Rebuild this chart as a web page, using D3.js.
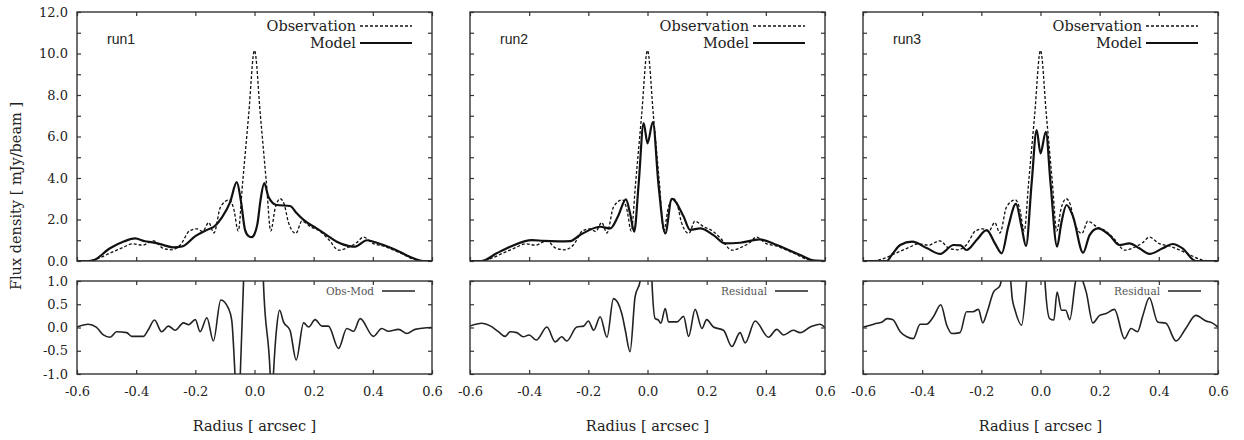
<!DOCTYPE html>
<html>
<head>
<meta charset="utf-8">
<script src="https://cdn.jsdelivr.net/npm/d3@7"></script>
<style>
    body { margin: 0; background: #fff; }
    svg text { font-family: "DejaVu Serif", serif; fill: #222; }
    .frame { fill: none; stroke: #333; stroke-width: 1.4; }
    .axis line { stroke: #333; stroke-width: 1.2; }
    .axis path { display: none; }
    .axis text { font-size: 13px; font-family: "DejaVu Serif", serif; fill: #222; }
    .obs { fill: none; stroke: #111; stroke-width: 1.3; stroke-dasharray: 3,2; }
    .model { fill: none; stroke: #111; stroke-width: 2.2; }
    .resid { fill: none; stroke: #222; stroke-width: 1.6; }
    .legend-text { font-size: 14.5px; }
    .legend-small { font-size: 10.5px; fill: #555 !important; }
    .run-label { font-family: "Liberation Sans", Arial, sans-serif !important; font-size: 14px; }
    .axis-title { font-size: 14.5px; }
</style>
</head>
<body>
<svg id="svg" width="1244" height="440"></svg>
<script>
// ---- data (radius [arcsec], flux [mJy/beam]) ----
const runNames = ['run1', 'run2', 'run3'];
const residualNames = ['Obs-Mod', 'Residual', 'Residual'];

const radiusTicks = [-0.6, -0.4, -0.2, 0.0, 0.2, 0.4, 0.6];
const fluxTicks = [0, 1, 2, 3, 4, 5, 6, 7, 8, 9, 10, 11, 12];
const residTicks = [-1.0, -0.5, 0.0, 0.5, 1.0];

const observation = [
    [-0.6, 0.0], [-0.56, 0.02], [-0.53, 0.12], [-0.49, 0.37], [-0.45, 0.62], [-0.41, 0.83],
    [-0.38, 0.76], [-0.34, 0.97], [-0.31, 0.62], [-0.28, 0.54], [-0.25, 0.78], [-0.22, 1.45],
    [-0.195, 1.55], [-0.175, 1.42], [-0.155, 1.85], [-0.137, 1.35], [-0.115, 2.6], [-0.085, 2.95],
    [-0.07, 2.5], [-0.055, 1.45], [-0.04, 3.8], [-0.02, 7.0], [0.0, 10.15], [0.02, 7.0],
    [0.04, 3.8], [0.055, 1.45], [0.07, 2.55], [0.087, 3.0], [0.1, 2.75], [0.115, 1.85],
    [0.14, 1.33], [0.16, 1.92], [0.19, 1.65], [0.22, 1.45], [0.25, 1.05], [0.285, 0.52],
    [0.32, 0.68], [0.345, 0.88], [0.368, 1.15], [0.4, 0.85], [0.44, 0.7], [0.49, 0.4],
    [0.54, 0.08], [0.57, 0.0], [0.6, 0.0]
];

const modelRun1 = [
    [-0.6, 0.0], [-0.56, 0.0], [-0.545, 0.03], [-0.49, 0.6], [-0.44, 0.95], [-0.404, 1.09],
    [-0.37, 0.95], [-0.345, 0.9], [-0.31, 0.78], [-0.275, 0.66], [-0.245, 0.7], [-0.2, 1.2],
    [-0.16, 1.5], [-0.133, 1.7], [-0.11, 2.1], [-0.082, 2.85], [-0.06, 3.8], [-0.046, 2.9],
    [-0.032, 1.5], [-0.02, 1.2], [-0.009, 1.15], [0.0, 1.3], [0.01, 1.8], [0.02, 2.9],
    [0.033, 3.75], [0.047, 3.1], [0.075, 2.7], [0.12, 2.65], [0.143, 2.3], [0.166, 1.98],
    [0.21, 1.57], [0.244, 1.25], [0.278, 0.93], [0.32, 0.72], [0.34, 0.69], [0.38, 1.0],
    [0.402, 0.93], [0.436, 0.77], [0.49, 0.45], [0.537, 0.13], [0.57, 0.0], [0.6, 0.0]
];

const modelRun2 = [
    [-0.6, 0.0], [-0.56, 0.0], [-0.51, 0.37], [-0.464, 0.69], [-0.39, 1.01], [-0.352, 0.97],
    [-0.3, 0.95], [-0.261, 0.96], [-0.228, 1.25], [-0.16, 1.65], [-0.126, 1.57], [-0.1, 2.14],
    [-0.073, 2.97], [-0.059, 2.3], [-0.045, 1.41], [-0.03, 3.7], [-0.013, 6.65], [0.0, 5.67],
    [0.018, 6.7], [0.037, 3.7], [0.06, 1.33], [0.082, 3.0], [0.122, 2.14], [0.144, 1.5],
    [0.178, 1.57], [0.223, 1.25], [0.262, 0.85], [0.313, 0.88], [0.38, 1.04], [0.437, 0.77],
    [0.516, 0.29], [0.56, 0.03], [0.6, 0.0]
];

const modelRun3 = [
    [-0.6, 0.0], [-0.52, 0.0], [-0.5, 0.35], [-0.474, 0.77], [-0.434, 0.93], [-0.383, 0.61],
    [-0.339, 0.34], [-0.294, 0.77], [-0.27, 0.75], [-0.25, 0.53], [-0.216, 1.01], [-0.182, 1.49],
    [-0.154, 0.85], [-0.131, 0.37], [-0.109, 1.65], [-0.083, 2.75], [-0.064, 1.65], [-0.049, 0.72],
    [-0.03, 3.74], [-0.013, 6.31], [0.0, 5.19], [0.018, 6.23], [0.034, 3.74], [0.056, 0.69],
    [0.07, 1.8], [0.088, 2.7], [0.11, 2.14], [0.144, 0.4], [0.166, 1.25], [0.194, 1.57],
    [0.233, 1.25], [0.267, 0.77], [0.3, 0.85], [0.334, 0.61], [0.368, 0.34], [0.413, 0.61],
    [0.447, 0.82], [0.48, 0.61], [0.525, 0.0], [0.6, 0.0]
];

const residRun1 = [
    [-0.6, 0.01], [-0.562, 0.07], [-0.535, 0.01], [-0.511, -0.16], [-0.488, -0.21], [-0.466, -0.09],
    [-0.432, -0.11], [-0.415, -0.19], [-0.376, -0.19], [-0.36, -0.06], [-0.338, 0.16], [-0.314, -0.09],
    [-0.291, 0.03], [-0.268, -0.06], [-0.24, 0.1], [-0.223, 0.06], [-0.2, 0.17], [-0.184, -0.09],
    [-0.161, 0.21], [-0.139, -0.29], [-0.114, 0.59], [-0.088, 0.41], [-0.077, 0.16], [-0.066, -1.0],
    [-0.057, -2.2], [-0.048, -1.0], [-0.037, 1.0], [-0.02, 5.0], [0.0, 9.0], [0.015, 5.0],
    [0.03, 1.0], [0.053, -1.0], [0.058, -1.8], [0.064, -1.0], [0.075, 0.0], [0.085, 0.37],
    [0.098, 0.12], [0.12, -0.06], [0.141, -0.7], [0.166, 0.1], [0.183, 0.01], [0.205, 0.17],
    [0.228, 0.03], [0.25, 0.03], [0.284, -0.45], [0.312, -0.02], [0.335, -0.08], [0.357, 0.19],
    [0.402, -0.19], [0.43, -0.02], [0.453, -0.08], [0.487, -0.04], [0.515, -0.13], [0.543, -0.04],
    [0.6, 0.0]
];

const residRun2 = [
    [-0.6, 0.03], [-0.56, 0.09], [-0.53, 0.03], [-0.504, -0.09], [-0.481, -0.19], [-0.464, -0.09],
    [-0.442, -0.11], [-0.42, -0.2], [-0.4, -0.16], [-0.376, -0.27], [-0.34, 0.01], [-0.312, -0.31],
    [-0.29, -0.2], [-0.273, -0.29], [-0.239, 0.01], [-0.216, 0.03], [-0.2, 0.14], [-0.182, -0.06],
    [-0.16, 0.23], [-0.137, -0.21], [-0.115, 0.62], [-0.087, 0.3], [-0.075, -0.06], [-0.059, -0.52],
    [-0.042, 0.66], [-0.025, 1.0], [-0.01, 2.5], [0.0, 3.5], [0.008, 2.5], [0.015, 1.0],
    [0.026, 0.19], [0.037, 0.16], [0.045, 0.09], [0.06, 0.41], [0.071, 0.12], [0.1, 0.12],
    [0.122, 0.24], [0.139, -0.19], [0.161, 0.39], [0.184, -0.02], [0.2, 0.17], [0.223, 0.01],
    [0.257, -0.06], [0.285, -0.41], [0.313, -0.11], [0.33, -0.33], [0.364, 0.14], [0.409, -0.21],
    [0.437, -0.04], [0.46, -0.16], [0.493, -0.06], [0.516, -0.11], [0.55, 0.01], [0.583, 0.07],
    [0.6, 0.0]
];

const residRun3 = [
    [-0.6, 0.01], [-0.575, 0.05], [-0.553, 0.09], [-0.535, 0.12], [-0.519, 0.19], [-0.5, 0.17],
    [-0.474, -0.09], [-0.452, -0.2], [-0.43, -0.24], [-0.407, 0.07], [-0.385, 0.07], [-0.362, 0.23],
    [-0.337, 0.49], [-0.317, 0.05], [-0.3, -0.13], [-0.272, -0.11], [-0.25, 0.34], [-0.228, 0.34],
    [-0.21, 0.39], [-0.195, 0.1], [-0.18, 0.34], [-0.159, 0.76], [-0.137, 0.9], [-0.125, 1.2],
    [-0.105, 1.2], [-0.095, 0.6], [-0.086, 0.37], [-0.064, 0.05], [-0.047, 1.0], [-0.03, 2.5],
    [0.0, 4.0], [0.005, 2.5], [0.015, 1.0], [0.031, 0.19], [0.045, 0.16], [0.056, 0.76],
    [0.071, 0.37], [0.085, 0.37], [0.099, 0.17], [0.121, 1.05], [0.13, 1.1], [0.144, 0.98],
    [0.155, 0.75], [0.177, 0.1], [0.2, 0.26], [0.222, 0.3], [0.25, 0.39], [0.284, -0.24],
    [0.306, -0.02], [0.328, -0.09], [0.346, 0.26], [0.368, 0.64], [0.396, 0.12], [0.424, 0.09],
    [0.458, -0.29], [0.491, -0.02], [0.525, 0.26], [0.559, 0.14], [0.58, 0.1], [0.6, 0.01]
];

const models = [modelRun1, modelRun2, modelRun3];
const residuals = [residRun1, residRun2, residRun3];

// ---- layout ----
const panelLeft = [77, 470, 863];
const panelWidth = 355;
const topArea = {y0: 12, y1: 261};
const botArea = {y0: 281, y1: 374};
const tickLen = 4;

const svg = d3.select('#svg');

runNames.forEach((name, i) => {
    const g = svg.append('g')
        .attr('transform', 'translate(' + panelLeft[i] + ',0)');

    const xScale = d3.scaleLinear().domain([-0.6, 0.6]).range([0, panelWidth]);
    const yTop = d3.scaleLinear().domain([0, 12]).range([topArea.y1, topArea.y0]);
    const yBot = d3.scaleLinear().domain([-1, 1]).range([botArea.y1, botArea.y0]);

    // clip paths
    g.append('clipPath').attr('id', 'clip-top-' + i)
        .append('rect')
        .attr('x', 0).attr('y', topArea.y0)
        .attr('width', panelWidth).attr('height', topArea.y1 - topArea.y0);
    g.append('clipPath').attr('id', 'clip-bot-' + i)
        .append('rect')
        .attr('x', 0).attr('y', botArea.y0)
        .attr('width', panelWidth).attr('height', botArea.y1 - botArea.y0);

    // ---- upper plot axes ----
    g.append('g').attr('class', 'axis')
        .attr('transform', 'translate(0,' + topArea.y1 + ')')
        .call(d3.axisBottom(xScale).tickValues(radiusTicks).tickSizeInner(-tickLen).tickSizeOuter(0).tickFormat(''));
    g.append('g').attr('class', 'axis')
        .attr('transform', 'translate(0,' + topArea.y0 + ')')
        .call(d3.axisTop(xScale).tickValues(radiusTicks).tickSizeInner(-tickLen).tickSizeOuter(0).tickFormat(''));
    g.append('g').attr('class', 'axis')
        .call(d3.axisLeft(yTop).tickValues(fluxTicks).tickSizeInner(-tickLen).tickSizeOuter(0).tickPadding(9)
            .tickFormat(d => (i === 0 && d % 2 === 0) ? d.toFixed(1) : ''));
    g.append('g').attr('class', 'axis')
        .attr('transform', 'translate(' + panelWidth + ',0)')
        .call(d3.axisRight(yTop).tickValues(fluxTicks).tickSizeInner(-tickLen).tickSizeOuter(0).tickFormat(''));

    // ---- lower plot axes ----
    g.append('g').attr('class', 'axis')
        .attr('transform', 'translate(0,' + botArea.y1 + ')')
        .call(d3.axisBottom(xScale).tickValues(radiusTicks).tickSizeInner(-tickLen).tickSizeOuter(0).tickPadding(13)
            .tickFormat(d => d.toFixed(1)));
    g.append('g').attr('class', 'axis')
        .attr('transform', 'translate(0,' + botArea.y0 + ')')
        .call(d3.axisTop(xScale).tickValues(radiusTicks).tickSizeInner(-tickLen).tickSizeOuter(0).tickFormat(''));
    g.append('g').attr('class', 'axis')
        .call(d3.axisLeft(yBot).tickValues(residTicks).tickSizeInner(-tickLen).tickSizeOuter(0).tickPadding(9)
            .tickFormat(d => i === 0 ? d.toFixed(1) : ''));
    g.append('g').attr('class', 'axis')
        .attr('transform', 'translate(' + panelWidth + ',0)')
        .call(d3.axisRight(yBot).tickValues(residTicks).tickSizeInner(-tickLen).tickSizeOuter(0).tickFormat(''));

    // ---- curves ----
    const lineTop = d3.line()
        .x(d => xScale(d[0]))
        .y(d => yTop(d[1]))
        .curve(d3.curveMonotoneX);
    const lineBot = d3.line()
        .x(d => xScale(d[0]))
        .y(d => yBot(d[1]))
        .curve(d3.curveMonotoneX);

    g.append('path')
        .datum(observation)
        .attr('class', 'obs')
        .attr('clip-path', 'url(#clip-top-' + i + ')')
        .attr('d', lineTop);
    g.append('path')
        .datum(models[i])
        .attr('class', 'model')
        .attr('clip-path', 'url(#clip-top-' + i + ')')
        .attr('d', lineTop);
    g.append('path')
        .datum(residuals[i])
        .attr('class', 'resid')
        .attr('clip-path', 'url(#clip-bot-' + i + ')')
        .attr('d', lineBot);

    // frames
    g.append('rect').attr('class', 'frame')
        .attr('x', 0).attr('y', topArea.y0)
        .attr('width', panelWidth).attr('height', topArea.y1 - topArea.y0);
    g.append('rect').attr('class', 'frame')
        .attr('x', 0).attr('y', botArea.y0)
        .attr('width', panelWidth).attr('height', botArea.y1 - botArea.y0);

    // ---- legends ----
    g.append('text').attr('class', 'legend-text')
        .attr('x', 279).attr('y', 26).attr('dy', '0.35em')
        .attr('text-anchor', 'end')
        .text('Observation');
    g.append('line').attr('class', 'obs')
        .attr('x1', 283).attr('x2', 335).attr('y1', 26).attr('y2', 26);
    g.append('text').attr('class', 'legend-text')
        .attr('x', 279).attr('y', 43).attr('dy', '0.35em')
        .attr('text-anchor', 'end')
        .text('Model');
    g.append('line').attr('class', 'model')
        .attr('x1', 283).attr('x2', 335).attr('y1', 43).attr('y2', 43);

    g.append('text').attr('class', 'legend-small')
        .attr('x', 297).attr('y', 291).attr('dy', '0.35em')
        .attr('text-anchor', 'end')
        .text(residualNames[i]);
    g.append('line').attr('class', 'resid')
        .attr('x1', 305).attr('x2', 338).attr('y1', 291).attr('y2', 291);

    g.append('text').attr('class', 'run-label')
        .attr('x', 30).attr('y', 39).attr('dy', '0.35em')
        .text(name);

    // x title
    g.append('text').attr('class', 'axis-title')
        .attr('x', panelWidth / 2).attr('y', 426).attr('dy', '0.35em')
        .attr('text-anchor', 'middle')
        .text('Radius [ arcsec ]');
});

// y title
svg.append('text').attr('class', 'axis-title')
    .attr('transform', 'translate(16,196) rotate(-90)')
    .attr('dy', '0.35em')
    .attr('text-anchor', 'middle')
    .text('Flux density [ mJy/beam ]');
</script>
</body>
</html>
